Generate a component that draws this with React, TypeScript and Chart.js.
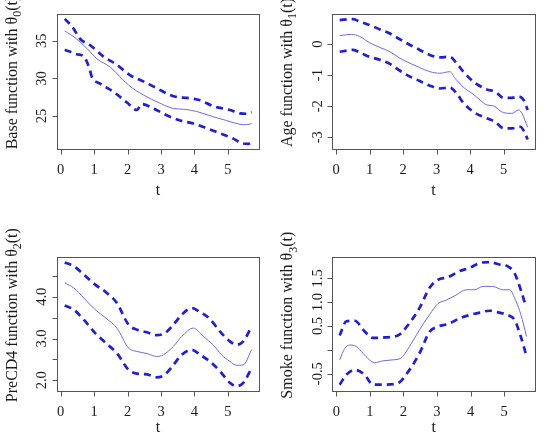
import { useEffect, useRef } from "react";
import { Chart, registerables } from "chart.js";

Chart.register(...registerables);

// ---- shared axis values ----
const X_MIN = -0.12;
const X_MAX = 5.93;
const xTicks = [0, 1, 2, 3, 4, 5];
const xTickLabels = ["0", "1", "2", "3", "4", "5"];

// ---- Base function θ0(t) ----
const baseMeanT = [0.12, 0.3, 0.54, 0.8, 1.08, 1.48, 2.03, 2.47, 2.97, 3.37, 3.67, 4.07, 4.56, 4.96, 5.36, 5.55, 5.71];
const baseMean = [36.3, 35.8, 35.0, 33.9, 32.6, 31.5, 29.1, 27.8, 26.7, 26.0, 25.9, 25.6, 24.9, 24.4, 23.9, 23.85, 24.0];
const baseUpperT = [0.12, 0.34, 0.59, 0.88, 1.28, 1.68, 2.08, 2.47, 2.87, 3.27, 3.5, 3.77, 4.17, 4.56, 5.06, 5.36, 5.55, 5.71];
const baseUpper = [37.9, 36.9, 35.2, 34.4, 32.9, 31.8, 30.4, 29.6, 28.7, 27.8, 27.5, 27.4, 27.1, 26.3, 25.8, 25.35, 25.3, 25.5];
const baseLowerT = [0.12, 0.49, 0.69, 0.86, 0.93, 1.18, 1.58, 1.98, 2.28, 2.42, 2.77, 3.17, 3.57, 3.97, 4.36, 4.76, 5.16, 5.41, 5.61, 5.71];
const baseLower = [33.8, 33.2, 32.9, 31.3, 30.2, 29.3, 28.2, 26.8, 25.8, 26.6, 26.0, 25.1, 24.4, 24.0, 23.4, 22.7, 22.0, 21.4, 21.3, 21.6];
const baseYTicks = [25, 30, 35];
const baseYTickLabels = ["25", "30", "35"];

// ---- Age function θ1(t) ----
const ageMeanT = [0.11, 0.46, 0.71, 1.0, 1.31, 1.61, 1.91, 2.21, 2.5, 2.8, 3.1, 3.4, 3.55, 3.8, 4.1, 4.3, 4.5, 4.7, 5.0, 5.25, 5.45, 5.55, 5.72];
const ageMean = [0.27, 0.31, 0.24, 0.04, -0.11, -0.25, -0.46, -0.62, -0.76, -0.89, -0.94, -0.89, -1.1, -1.39, -1.62, -1.8, -1.96, -1.99, -2.21, -2.23, -2.12, -2.23, -2.68];
const ageUpperT = [0.11, 0.51, 0.71, 1.0, 1.31, 1.61, 1.91, 2.21, 2.5, 2.8, 3.1, 3.4, 3.6, 3.8, 4.1, 4.5, 4.75, 5.0, 5.25, 5.45, 5.6, 5.72];
const ageUpper = [0.77, 0.8, 0.72, 0.61, 0.47, 0.34, 0.15, -0.03, -0.19, -0.35, -0.43, -0.41, -0.62, -0.89, -1.21, -1.46, -1.53, -1.73, -1.73, -1.69, -1.8, -2.12];
const ageLowerT = [0.11, 0.51, 0.76, 1.0, 1.31, 1.61, 1.91, 2.21, 2.5, 2.8, 3.1, 3.4, 3.6, 3.8, 4.1, 4.5, 4.75, 5.0, 5.25, 5.5, 5.62, 5.72];
const ageLower = [-0.25, -0.19, -0.3, -0.41, -0.51, -0.64, -0.86, -1.05, -1.19, -1.34, -1.43, -1.4, -1.59, -1.89, -2.18, -2.39, -2.5, -2.71, -2.71, -2.66, -2.82, -3.07];
const ageYTicks = [-3, -2, -1, 0];
const ageYTickLabels = ["-3", "-2", "-1", "0"];

// ---- PreCD4 function θ2(t) ----
const cd4MeanT = [0.12, 0.39, 0.69, 1.03, 1.38, 1.68, 2.03, 2.28, 2.58, 2.87, 3.07, 3.37, 3.62, 3.97, 4.22, 4.41, 4.56, 4.81, 5.06, 5.26, 5.46, 5.71];
const cd4Mean = [4.33, 4.21, 3.97, 3.69, 3.47, 3.25, 2.77, 2.69, 2.64, 2.57, 2.61, 2.81, 3.05, 3.25, 3.09, 2.95, 2.85, 2.61, 2.45, 2.36, 2.37, 2.73];
const cd4BandT = [0.12, 0.39, 0.69, 1.03, 1.38, 1.68, 2.03, 2.28, 2.58, 2.87, 3.12, 3.37, 3.62, 3.92, 4.17, 4.46, 4.76, 5.06, 5.26, 5.46, 5.71];
const cd4Upper = [4.82, 4.73, 4.53, 4.29, 4.09, 3.85, 3.33, 3.21, 3.15, 3.08, 3.13, 3.33, 3.57, 3.73, 3.63, 3.47, 3.17, 2.93, 2.85, 2.93, 3.29];
const cd4Lower = [3.79, 3.69, 3.45, 3.13, 2.87, 2.65, 2.25, 2.16, 2.14, 2.07, 2.14, 2.37, 2.61, 2.73, 2.61, 2.45, 2.22, 1.94, 1.86, 1.94, 2.29];
const cd4YTicks = [2.0, 2.5, 3.0, 3.5, 4.0, 4.5];
const cd4YTickLabels = ["2.0", null, "3.0", null, "4.0", null];

// ---- Smoke function θ3(t) ----
const smokeMeanT = [0.1, 0.25, 0.4, 0.6, 0.79, 0.99, 1.14, 1.39, 1.69, 1.93, 2.18, 2.48, 2.78, 3.03, 3.27, 3.57, 3.87, 4.12, 4.37, 4.66, 4.96, 5.16, 5.36, 5.5, 5.67];
const smokeMean = [-0.21, 0.03, 0.1, 0.07, -0.07, -0.21, -0.27, -0.23, -0.21, -0.17, 0.07, 0.42, 0.74, 0.97, 1.04, 1.15, 1.26, 1.26, 1.33, 1.33, 1.26, 1.26, 1.01, 0.74, 0.28];
const smokeBandT = [0.1, 0.3, 0.55, 0.84, 1.09, 1.44, 1.83, 2.18, 2.48, 2.78, 3.03, 3.32, 3.67, 3.97, 4.27, 4.56, 4.86, 5.11, 5.31, 5.51, 5.65];
const smokeUpper = [0.3, 0.6, 0.61, 0.39, 0.25, 0.26, 0.3, 0.56, 0.88, 1.3, 1.47, 1.52, 1.65, 1.72, 1.82, 1.84, 1.79, 1.75, 1.61, 1.23, 0.91];
const smokeLower = [-0.73, -0.52, -0.42, -0.52, -0.73, -0.73, -0.7, -0.42, -0.07, 0.38, 0.49, 0.54, 0.66, 0.73, 0.78, 0.82, 0.78, 0.73, 0.63, 0.25, -0.09];
const smokeYTicks = [-0.5, 0, 0.5, 1.0, 1.5];
const smokeYTickLabels = ["-0.5", null, "0.5", "1.0", "1.5"];

// ---- styling ----
const PANEL_W = 273;
const PANEL_H = 218;
const SERIF = '"Liberation Serif", "Times New Roman", serif';
const TICK_FONT = 14.5;
const LABEL_FONT = 16;
const FRAME_COLOR = "#555555";
const TEXT_COLOR = "#1a1a1a";
const BAND_COLOR = "#1f1fd2";
const MEAN_COLOR = "#6b6be0";

type Series = { t: number[]; v: number[] };
type PanelSpec = {
  id: string;
  x: number;
  y: number;
  box: [number, number, number, number]; // left, top, right, bottom inside the panel
  yMin: number;
  yMax: number;
  yTicks: number[];
  yTickLabels: (string | null)[];
  label: [string, string, string];
  titleGap: number;
  mean: Series;
  upper: Series;
  lower: Series;
};

const panels: PanelSpec[] = [
  {
    id: "base", x: 0, y: 0, box: [56.7, 14, 259, 149],
    yMin: 20.62, yMax: 38.55, yTicks: baseYTicks, yTickLabels: baseYTickLabels,
    label: ["Base function with θ", "0", "(t)"], titleGap: 45.5,
    mean: { t: baseMeanT, v: baseMean }, upper: { t: baseUpperT, v: baseUpper }, lower: { t: baseLowerT, v: baseLower },
  },
  {
    id: "age", x: 273, y: 0, box: [59, 14, 261.7, 149],
    yMin: -3.376, yMax: 0.965, yTicks: ageYTicks, yTickLabels: ageYTickLabels,
    label: ["Age function with θ", "1", "(t)"], titleGap: 45.5,
    mean: { t: ageMeanT, v: ageMean }, upper: { t: ageUpperT, v: ageUpper }, lower: { t: ageLowerT, v: ageLower },
  },
  {
    id: "cd4", x: 0, y: 218, box: [56.7, 39, 259, 173.3],
    yMin: 1.737, yMax: 4.95, yTicks: cd4YTicks, yTickLabels: cd4YTickLabels,
    label: ["PreCD4 function with θ", "2", "(t)"], titleGap: 41,
    mean: { t: cd4MeanT, v: cd4Mean }, upper: { t: cd4BandT, v: cd4Upper }, lower: { t: cd4BandT, v: cd4Lower },
  },
  {
    id: "smoke", x: 273, y: 218, box: [59.3, 39, 262.3, 173.3],
    yMin: -0.869, yMax: 1.947, yTicks: smokeYTicks, yTickLabels: smokeYTickLabels,
    label: ["Smoke function with θ", "3", "(t)"], titleGap: 41,
    mean: { t: smokeMeanT, v: smokeMean }, upper: { t: smokeBandT, v: smokeUpper }, lower: { t: smokeBandT, v: smokeLower },
  },
];

const toPoints = (s: Series) => s.t.map((t, i) => ({ x: t, y: s.v[i] }));

// Draws the R-style frame: box, outward ticks, rotated y labels and axis titles.
function framePlugin(spec: PanelSpec) {
  return {
    id: "rFrame-" + spec.id,
    afterDatasetsDraw(chart: any) {
      const ctx: CanvasRenderingContext2D = chart.ctx;
      const area = chart.chartArea;
      const xs = chart.scales.x;
      const ys = chart.scales.y;
      const tickLen = 5;
      ctx.save();

      // box
      ctx.strokeStyle = FRAME_COLOR;
      ctx.lineWidth = 1;
      ctx.strokeRect(Math.round(area.left) + 0.5, Math.round(area.top) + 0.5,
        Math.round(area.right) - Math.round(area.left), Math.round(area.bottom) - Math.round(area.top));

      // x ticks
      const yb = Math.round(area.bottom) + 0.5;
      ctx.beginPath();
      xTicks.forEach((v) => {
        const px = Math.round(xs.getPixelForValue(v)) + 0.5;
        ctx.moveTo(px, yb);
        ctx.lineTo(px, yb + tickLen);
      });
      // y ticks
      const xl = Math.round(area.left) + 0.5;
      spec.yTicks.forEach((v) => {
        const py = Math.round(ys.getPixelForValue(v)) + 0.5;
        ctx.moveTo(xl, py);
        ctx.lineTo(xl - tickLen, py);
      });
      ctx.stroke();

      ctx.fillStyle = TEXT_COLOR;
      ctx.font = `${TICK_FONT}px ${SERIF}`;
      ctx.textAlign = "center";
      ctx.textBaseline = "alphabetic";
      xTicks.forEach((v, i) => {
        ctx.fillText(xTickLabels[i], xs.getPixelForValue(v), area.bottom + 24.5);
      });
      spec.yTicks.forEach((v, i) => {
        const lab = spec.yTickLabels[i];
        if (!lab) return;
        ctx.save();
        ctx.translate(area.left - 10.5, ys.getPixelForValue(v));
        ctx.rotate(-Math.PI / 2);
        ctx.fillText(lab, 0, 0);
        ctx.restore();
      });

      // x title
      ctx.font = `${LABEL_FONT}px ${SERIF}`;
      ctx.fillText("t", (area.left + area.right) / 2, area.bottom + spec.titleGap);

      // y title with subscript
      const [pre, sub, post] = spec.label;
      const mainFont = `${LABEL_FONT}px ${SERIF}`;
      const subFont = `${Math.round(LABEL_FONT * 0.72)}px ${SERIF}`;
      ctx.font = mainFont;
      const wPre = ctx.measureText(pre).width;
      const wPost = ctx.measureText(post).width;
      ctx.font = subFont;
      const wSub = ctx.measureText(sub).width;
      const total = wPre + wSub + wPost;
      ctx.save();
      ctx.translate(area.left - 40, (area.top + area.bottom) / 2 - 9);
      ctx.rotate(-Math.PI / 2);
      ctx.textAlign = "left";
      let cx = -total / 2;
      ctx.font = mainFont;
      ctx.fillText(pre, cx, 0);
      cx += wPre;
      ctx.font = subFont;
      ctx.fillText(sub, cx, LABEL_FONT * 0.28);
      cx += wSub;
      ctx.font = mainFont;
      ctx.fillText(post, cx, 0);
      ctx.restore();

      ctx.restore();
    },
  };
}

function Panel({ spec }: { spec: PanelSpec }) {
  const ref = useRef<HTMLCanvasElement | null>(null);

  useEffect(() => {
    const canvas = ref.current;
    if (!canvas) return;
    const [l, t, r, b] = spec.box;
    const band = (s: Series) => ({
      data: toPoints(s),
      borderColor: BAND_COLOR,
      borderWidth: 2.7,
      borderDash: [7, 5],
      pointRadius: 0,
      fill: false,
      cubicInterpolationMode: "monotone" as const,
    });
    const chart = new Chart(canvas, {
      type: "line",
      data: {
        datasets: [
          band(spec.upper),
          band(spec.lower),
          {
            data: toPoints(spec.mean),
            borderColor: MEAN_COLOR,
            borderWidth: 1,
            pointRadius: 0,
            fill: false,
            cubicInterpolationMode: "monotone" as const,
          },
        ],
      },
      options: {
        responsive: false,
        animation: false,
        events: [],
        layout: { padding: { left: l, top: t, right: PANEL_W - r, bottom: PANEL_H - b } },
        scales: {
          x: { type: "linear", min: X_MIN, max: X_MAX, display: false },
          y: { type: "linear", min: spec.yMin, max: spec.yMax, display: false },
        },
        plugins: { legend: { display: false }, tooltip: { enabled: false } },
      },
      plugins: [framePlugin(spec)],
    });
    return () => chart.destroy();
  }, [spec]);

  return (
    <canvas
      ref={ref}
      width={PANEL_W}
      height={PANEL_H}
      style={{ position: "absolute", left: spec.x, top: spec.y, width: PANEL_W, height: PANEL_H }}
    />
  );
}

export default function App() {
  return (
    <div style={{ position: "fixed", left: 0, top: 0, width: 546, height: 436, background: "#ffffff", overflow: "hidden" }}>
      {panels.map((p) => (
        <Panel key={p.id} spec={p} />
      ))}
    </div>
  );
}
